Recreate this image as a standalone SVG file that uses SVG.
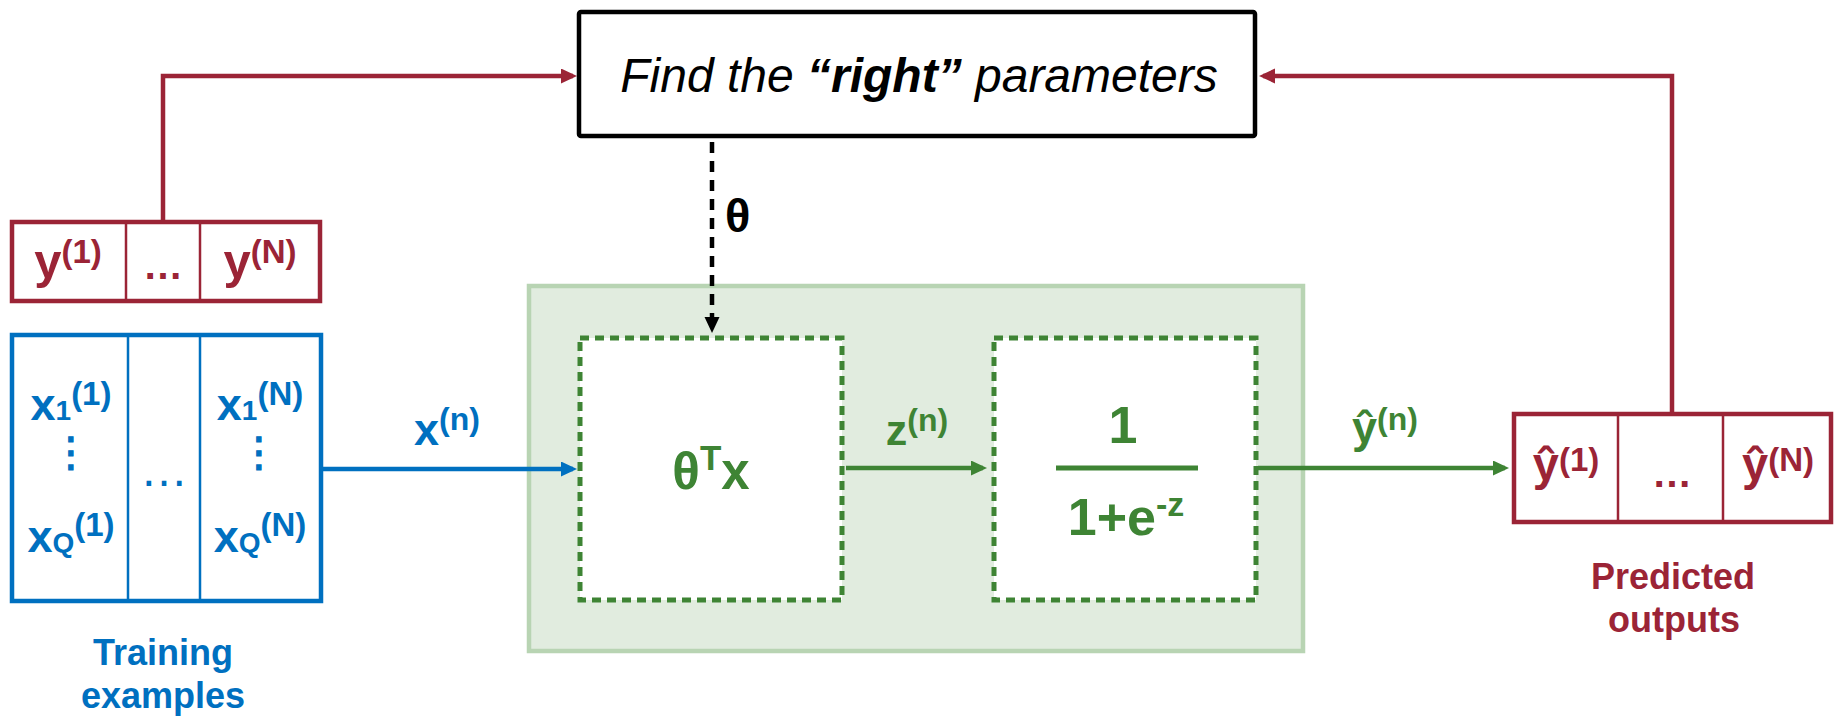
<svg xmlns="http://www.w3.org/2000/svg" width="1835" height="719" viewBox="0 0 1835 719">
<style>
text{font-family:"Liberation Sans",Arial,sans-serif;font-weight:bold}
.red{fill:#9b2436}
.blue{fill:#0070c0}
.green{fill:#3e8434}
.box-red{fill:#fff;stroke:#9b2436;stroke-width:4.5}
.box-blue{fill:#fff;stroke:#0070c0;stroke-width:4.5}
.div-red{stroke:#9b2436;stroke-width:2.5}
.div-blue{stroke:#0070c0;stroke-width:2.5}
.dash-box{fill:#fff;stroke:#3e8434;stroke-width:5;stroke-dasharray:9 6}
.conn{fill:none;stroke-width:4.5}
.vdots{font-family:"DejaVu Sans",sans-serif;font-size:41px;font-weight:normal;stroke:#0070c0;stroke-width:1.2}
</style>
<defs>
<marker id="ah-red" markerUnits="userSpaceOnUse" markerWidth="17" markerHeight="16" refX="12" refY="7.5" orient="auto"><path d="M0,0 L16,7.5 L0,15 z" fill="#9b2436"/></marker>
<marker id="ah-blue" markerUnits="userSpaceOnUse" markerWidth="17" markerHeight="16" refX="12" refY="7.5" orient="auto"><path d="M0,0 L16,7.5 L0,15 z" fill="#0070c0"/></marker>
<marker id="ah-green" markerUnits="userSpaceOnUse" markerWidth="17" markerHeight="16" refX="12" refY="7.5" orient="auto"><path d="M0,0 L16,7.5 L0,15 z" fill="#3e8434"/></marker>
<marker id="ah-black" markerUnits="userSpaceOnUse" markerWidth="17" markerHeight="16" refX="12" refY="7.5" orient="auto"><path d="M0,0 L16,7.5 L0,15 z" fill="#000"/></marker>
</defs>

<g id="model-group">
<rect x="529" y="286" width="774" height="365" fill="#e1ecdf" stroke="#b8d4b3" stroke-width="4.5"/>
</g>

<g id="connectors">
<path class="conn" d="M163,222 V76 H573" stroke="#9b2436" marker-end="url(#ah-red)"/>
<path class="conn" d="M1672,414 V76 H1263" stroke="#9b2436" marker-end="url(#ah-red)"/>
<path class="conn" d="M712,142 V329" stroke="#000" stroke-dasharray="11 8" marker-end="url(#ah-black)"/>
<path class="conn" d="M323,469 H573" stroke="#0070c0" marker-end="url(#ah-blue)"/>
<path class="conn" d="M846,468 H983" stroke="#3e8434" marker-end="url(#ah-green)"/>
<path class="conn" d="M1258,468 H1505" stroke="#3e8434" marker-end="url(#ah-green)"/>
<text x="725" y="232" font-size="47" fill="#000">θ</text>
<text class="blue" x="447" y="445" font-size="45" text-anchor="middle">x<tspan font-size="32" dy="-15">(n)</tspan></text>
<text class="green" x="917" y="445" font-size="43" text-anchor="middle">z<tspan font-size="32" dy="-14">(n)</tspan></text>
<text class="green" x="1385" y="443" font-size="45" text-anchor="middle">ŷ<tspan font-size="32" dy="-13">(n)</tspan></text>
</g>

<g id="find-params">
<rect x="579" y="12" width="676" height="124" rx="2" fill="#fff" stroke="#000" stroke-width="4.5"/>
<text x="919" y="92" font-size="48" font-style="italic" text-anchor="middle" fill="#000" style="font-weight:normal">Find the <tspan style="font-weight:bold">“right”</tspan> parameters</text>
</g>

<g id="labels-y">
<rect class="box-red" x="12" y="222" width="308" height="79"/>
<line class="div-red" x1="126" y1="222" x2="126" y2="301"/>
<line class="div-red" x1="200" y1="222" x2="200" y2="301"/>
<text class="red" x="68" y="278" font-size="49" text-anchor="middle">y<tspan font-size="33" dy="-15">(1)</tspan></text>
<text class="red" x="163" y="279" font-size="40" text-anchor="middle">…</text>
<text class="red" x="260" y="278" font-size="49" text-anchor="middle">y<tspan font-size="33" dy="-15">(N)</tspan></text>
</g>

<g id="training-examples">
<rect class="box-blue" x="12" y="335" width="309" height="266"/>
<line class="div-blue" x1="128" y1="335" x2="128" y2="601"/>
<line class="div-blue" x1="200" y1="335" x2="200" y2="601"/>
<text class="blue" x="71" y="420" font-size="45" text-anchor="middle">x<tspan font-size="28">1</tspan><tspan font-size="33" dy="-15">(1)</tspan></text>
<text class="blue vdots" x="71" y="466" text-anchor="middle">⋮</text>
<text class="blue" x="71" y="552" font-size="45" text-anchor="middle">x<tspan font-size="28">Q</tspan><tspan font-size="33" dy="-16">(1)</tspan></text>
<text class="blue" x="164" y="486" font-size="48" text-anchor="middle" style="font-weight:normal">…</text>
<text class="blue" x="260" y="420" font-size="45" text-anchor="middle">x<tspan font-size="28">1</tspan><tspan font-size="33" dy="-15">(N)</tspan></text>
<text class="blue vdots" x="259" y="466" text-anchor="middle">⋮</text>
<text class="blue" x="260" y="552" font-size="45" text-anchor="middle">x<tspan font-size="28">Q</tspan><tspan font-size="33" dy="-16">(N)</tspan></text>
<text class="blue" x="163" y="665" font-size="36" text-anchor="middle">Training</text>
<text class="blue" x="163" y="708" font-size="36" text-anchor="middle">examples</text>
</g>

<g id="linear">
<rect class="dash-box" x="580" y="338" width="262" height="262"/>
<text class="green" x="711" y="489" font-size="51" text-anchor="middle">θ<tspan font-size="35" dy="-19">T</tspan><tspan dy="19">x</tspan></text>
</g>

<g id="sigmoid">
<rect class="dash-box" x="994" y="338" width="262" height="262"/>
<text class="green" x="1123" y="443" font-size="52" text-anchor="middle">1</text>
<line x1="1056" y1="468" x2="1198" y2="468" stroke="#3e8434" stroke-width="5"/>
<text class="green" x="1126" y="535" font-size="52" text-anchor="middle">1+e<tspan font-size="34" dy="-19">-z</tspan></text>
</g>

<g id="predicted-outputs">
<rect class="box-red" x="1514" y="414" width="317" height="108"/>
<line class="div-red" x1="1618" y1="414" x2="1618" y2="522"/>
<line class="div-red" x1="1723" y1="414" x2="1723" y2="522"/>
<text class="red" x="1566" y="480" font-size="47" text-anchor="middle">ŷ<tspan font-size="33" dy="-9">(1)</tspan></text>
<text class="red" x="1672" y="487" font-size="40" text-anchor="middle">…</text>
<text class="red" x="1778" y="480" font-size="47" text-anchor="middle">ŷ<tspan font-size="33" dy="-9">(N)</tspan></text>
<text class="red" x="1673" y="589" font-size="36" text-anchor="middle">Predicted</text>
<text class="red" x="1674" y="632" font-size="36" text-anchor="middle">outputs</text>
</g>
</svg>
